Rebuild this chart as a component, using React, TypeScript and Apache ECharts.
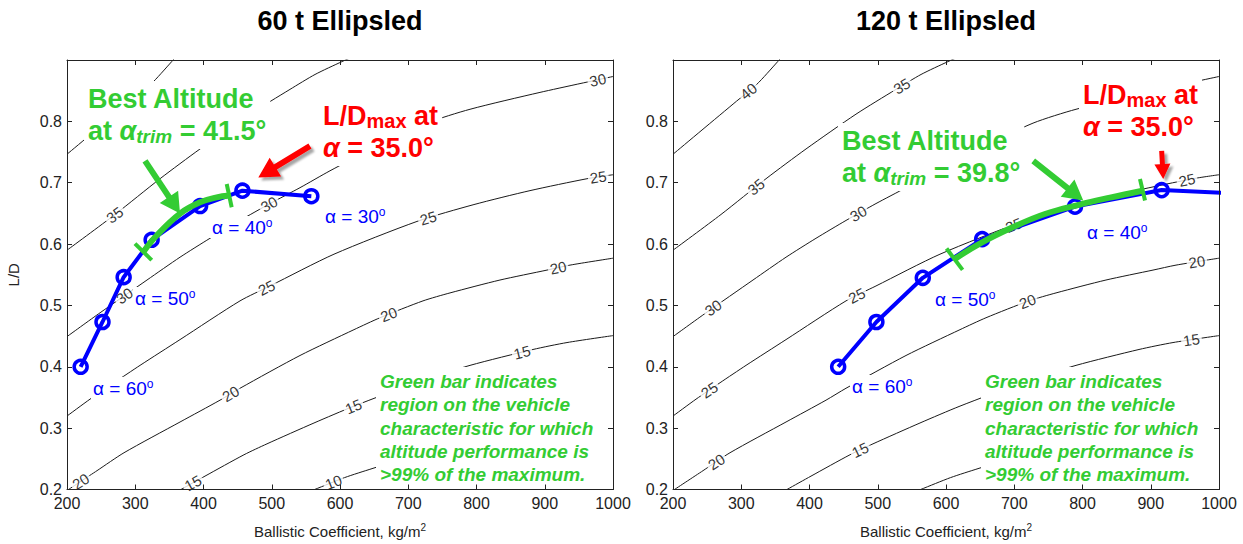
import React, { useEffect, useRef } from 'react';
import * as echarts from 'echarts';

// ---------- data ----------
// altitude contours (same field in both panels): [ballistic coefficient, L/D]
const contourLevels = [40, 35, 30, 25, 20, 15, 10];
const contour40 = [[200, 0.7464], [292.9, 0.8327], [322.2, 0.8597], [353.4, 0.8974], [365.6, 0.9136]];
const contour35 = [[200, 0.59], [270.3, 0.6482], [336.3, 0.7065], [394.9, 0.755], [468.1, 0.8117], [526.7, 0.8521], [563.4, 0.8764], [602.9, 0.8974], [629.3, 0.9104]];
const contour30 = [[200, 0.4492], [248.4, 0.488], [317.2, 0.5414], [365.6, 0.5786], [409.5, 0.6094], [453.5, 0.6385], [497.4, 0.666], [541.4, 0.6919], [585.3, 0.7194], [644, 0.7534], [727.5, 0.7971], [790.5, 0.8197], [893, 0.8472], [1000, 0.8731]];
const contour25 = [[200, 0.3197], [233.7, 0.3472], [268.9, 0.374], [307, 0.4023], [365.6, 0.4443], [453.5, 0.5074], [497.4, 0.5317], [591.2, 0.5835], [712.8, 0.6369], [796.3, 0.6644], [878.4, 0.6871], [961.9, 0.7065], [1000, 0.713]];
const contour20 = [[200, 0.1984], [244, 0.2307], [283.5, 0.2599], [365.6, 0.31], [424.2, 0.3456], [453.5, 0.365], [541.4, 0.4184], [620.5, 0.4605], [658.6, 0.4799], [721.6, 0.5074], [761.2, 0.5204], [834.4, 0.5414], [903.3, 0.5576], [937, 0.5657], [1000, 0.577]];
const contour15 = [[336.3, 0.1806], [367, 0.2], [402.2, 0.2218], [459.3, 0.2566], [493, 0.2744], [561.9, 0.3084], [620.5, 0.3359], [717.2, 0.3764], [790.5, 0.4023], [882.8, 0.4282], [932.6, 0.4395], [1000, 0.4508]];
const contour10 = [[536.3, 0.1887], [562.8, 0.2], [606.7, 0.2194], [646.9, 0.234], [717.2, 0.2583], [805.1, 0.2858], [893, 0.3084], [950, 0.321]];
const contours = [contour40, contour35, contour30, contour25, contour20, contour15, contour10];

// contour label placements: [level, BC, L/D]
const labels60 = [[35, 270.3, 0.647], [30, 282.5, 0.518], [30, 492.6, 0.672], [30, 978, 0.866], [25, 494.9, 0.523], [25, 729.4, 0.642], [25, 978, 0.712], [20, 219, 0.215], [20, 438.8, 0.358], [20, 673.2, 0.48], [20, 919.8, 0.561], [15, 385, 0.21], [15, 619.5, 0.336], [15, 866.2, 0.426], [10, 590.2, 0.2125]];
const labels120 = [[40, 307.6, 0.853], [35, 319.8, 0.696], [35, 532.3, 0.863], [30, 258.2, 0.497], [30, 471.2, 0.65], [25, 253.8, 0.361], [25, 471.2, 0.512], [25, 698, 0.634], [25, 952.6, 0.707], [20, 263.6, 0.245], [20, 720, 0.505], [20, 967.7, 0.571], [15, 473.7, 0.266], [15, 960, 0.442]];

// vehicle characteristic (alpha = 60 ... 30 deg)
const bc60 = [220, 252, 283, 324, 395, 457, 558];
const ld60 = [0.400, 0.473, 0.546, 0.607, 0.662, 0.687, 0.678];
const bc120 = [442, 498, 566, 653, 789, 916, 1116];
const ld120 = [0.400, 0.473, 0.545, 0.608, 0.661, 0.688, 0.678];

// >99% altitude band
const band60 = [[311.8, 0.5872], [331.4, 0.614], [365.6, 0.6498], [394.9, 0.6681], [419.3, 0.6762], [437.7, 0.679]];
const band120 = [[612.5, 0.5754], [649.6, 0.6008], [698.4, 0.6277], [745, 0.649], [796.2, 0.6644], [840.2, 0.6757], [887.8, 0.687]];
const bandEnds60 = [[[299.6, 0.6008], [324.1, 0.5738]], [[434, 0.6979], [441.3, 0.66]]];
const bandEnds120 = [[[600.8, 0.5927], [624.3, 0.5579]], [[884.2, 0.706], [891.6, 0.6709]]];

// arrows: [from, to]
const bestArrow60 = [[314.3, 0.7356], [365.6, 0.6498]];
const ldArrow60 = [[556, 0.7599], [480.3, 0.7086]];
const bestArrow120 = [[727.8, 0.7356], [801.1, 0.6709]];
const ldArrow120 = [[916, 0.7519], [918.3, 0.706]];

const titles = ['60 t Ellipsled', '120 t Ellipsled'];
const bestText = ['41.5°', '39.8°'];
const ldText = '35.0°';
const alphaLabels60 = ['60', '50', '40', '30'];
const alphaLabels120 = ['60', '50', '40'];
const noteLines = ['Green bar indicates', 'region on the vehicle', 'characteristic for which', 'altitude performance is', '>99% of the maximum.'];

// ---------- style ----------
const FONT = "'Liberation Sans', Arial, Helvetica, sans-serif";
const AXIS = '#222';
const GREEN = '#33cc33';
const BLUE = '#0000ff';
const RED = '#ff0000';

const GRIDS = [
  { left: 67, top: 60, width: 546, height: 431 },
  { left: 673, top: 60, width: 546, height: 431 },
];

export default function App() {
  const ref = useRef<HTMLDivElement>(null);

  useEffect(() => {
    const chart = echarts.init(ref.current!, null, { renderer: 'svg' });

    const xAxes: any[] = [];
    const yAxes: any[] = [];
    GRIDS.forEach((_, i) => {
      const common = {
        type: 'value', gridIndex: i, z: 10,
        axisLine: { show: true, onZero: false, lineStyle: { color: AXIS, width: 1 } },
        axisTick: { show: true, inside: true, length: 5, lineStyle: { color: AXIS } },
        splitLine: { show: false },
      };
      xAxes.push({
        ...common, position: 'bottom', min: 200, max: 1000, interval: 100,
        axisLabel: { color: '#222', fontSize: 16, fontFamily: FONT, margin: 6, formatter: (v: number) => String(v) },
        name: 'Ballistic Coefficient, kg/m{sup|2}', nameLocation: 'middle', nameGap: 33,
        nameTextStyle: {
          color: '#222', fontSize: 15, fontFamily: FONT,
          rich: { sup: { fontSize: 10, fontFamily: FONT, color: '#222', padding: [0, 0, 8, 0] } },
        },
      });
      xAxes.push({ ...common, position: 'top', min: 200, max: 1000, interval: 100, axisLabel: { show: false } });
      yAxes.push({
        ...common, position: 'left', min: 0.2, max: 0.9, interval: 0.1,
        axisLabel: { color: '#222', fontSize: 16, fontFamily: FONT, margin: 5, showMaxLabel: false, formatter: (v: number) => v.toFixed(1) },
        name: i === 0 ? 'L/D' : '', nameLocation: 'middle', nameGap: 46, nameRotate: 90,
        nameTextStyle: { color: '#222', fontSize: 15, fontFamily: FONT },
      });
      yAxes.push({ ...common, position: 'right', min: 0.2, max: 0.9, interval: 0.1, axisLabel: { show: false } });
    });

    const series: any[] = [];
    [0, 1].forEach((p) => {
      const ax = { xAxisIndex: 2 * p, yAxisIndex: 2 * p };
      contours.forEach((c) => {
        series.push({
          type: 'line', ...ax, data: c, symbol: 'none', smooth: 0.25, silent: true, z: 2,
          lineStyle: { color: '#1a1a1a', width: 1 },
        });
      });
      const bc = p === 0 ? bc60 : bc120;
      const ld = p === 0 ? ld60 : ld120;
      series.push({
        type: 'line', ...ax, data: bc.map((x, i) => [x, ld[i]]), symbol: 'circle', symbolSize: 13,
        showAllSymbol: true, silent: true, z: 5,
        lineStyle: { color: BLUE, width: 4 },
        itemStyle: { color: 'rgba(0,0,0,0)', borderColor: BLUE, borderWidth: 3.5 },
      });
      series.push({
        type: 'line', ...ax, data: p === 0 ? band60 : band120, symbol: 'none', smooth: 0.4, silent: true, z: 6,
        lineStyle: { color: GREEN, width: 6 },
      });
      (p === 0 ? bandEnds60 : bandEnds120).forEach((seg) => {
        series.push({
          type: 'line', ...ax, data: seg, symbol: 'none', silent: true, z: 6,
          lineStyle: { color: GREEN, width: 4 },
        });
      });
    });

    const base: any = {
      animation: false,
      backgroundColor: '#fff',
      grid: GRIDS,
      xAxis: xAxes,
      yAxis: yAxes,
      series,
    };
    chart.setOption(base);

    const toPx = (p: number, pt: number[]) => chart.convertToPixel({ gridIndex: p }, pt) as number[];
    const fromPx = (p: number, pt: number[]) => chart.convertFromPixel({ gridIndex: p }, pt) as number[];

    // contour labels: snap onto their contour and align with it
    const labelSeries: any[] = [];
    [0, 1].forEach((p) => {
      const list = p === 0 ? labels60 : labels120;
      const data = list.map(([lev, x, y]) => {
        const c = contours[contourLevels.indexOf(lev)];
        const pts = c.map((q) => toPx(p, q));
        const lp = toPx(p, [x, y]);
        let best = { d: Infinity, px: lp, ang: 0 };
        for (let i = 0; i < pts.length - 1; i++) {
          const a = pts[i], b = pts[i + 1];
          const dx = b[0] - a[0], dy = b[1] - a[1];
          const l2 = dx * dx + dy * dy;
          let t = ((lp[0] - a[0]) * dx + (lp[1] - a[1]) * dy) / l2;
          t = Math.max(0, Math.min(1, t));
          const q = [a[0] + t * dx, a[1] + t * dy];
          const d = Math.hypot(q[0] - lp[0], q[1] - lp[1]);
          if (d < best.d) {
            let ang = (Math.atan2(-dy, dx) * 180) / Math.PI;
            if (ang > 90) ang -= 180;
            if (ang < -90) ang += 180;
            best = { d, px: q, ang };
          }
        }
        return { name: String(lev), value: fromPx(p, best.px), label: { rotate: best.ang } };
      });
      labelSeries.push({
        type: 'scatter', xAxisIndex: 2 * p, yAxisIndex: 2 * p, data, symbolSize: 1, silent: true, z: 3,
        itemStyle: { color: 'rgba(0,0,0,0)' },
        label: {
          show: true, position: 'inside', formatter: '{b}', fontSize: 15, fontFamily: FONT, color: '#000',
          backgroundColor: '#fff', padding: [0, 2],
        },
      });
    });

    const arrowPoly = (a: number[], b: number[], shaft: number, headLen: number, headHalf: number) => {
      const dx = b[0] - a[0], dy = b[1] - a[1];
      const L = Math.hypot(dx, dy);
      const ux = dx / L, uy = dy / L, nx = -uy, ny = ux;
      const bs = [b[0] - ux * headLen, b[1] - uy * headLen];
      const s = shaft / 2;
      return [
        [a[0] + nx * s, a[1] + ny * s], [bs[0] + nx * s, bs[1] + ny * s], [bs[0] + nx * headHalf, bs[1] + ny * headHalf],
        b, [bs[0] - nx * headHalf, bs[1] - ny * headHalf], [bs[0] - nx * s, bs[1] - ny * s], [a[0] - nx * s, a[1] - ny * s],
      ];
    };
    const redShadow = { shadowBlur: 2, shadowColor: 'rgba(0,0,0,0.35)', shadowOffsetX: 3, shadowOffsetY: 3 };
    const arrows = [
      { type: 'polygon', z: 7, shape: { points: arrowPoly(toPx(0, bestArrow60[0]), toPx(0, bestArrow60[1]), 6, 20, 11) }, style: { fill: GREEN } },
      { type: 'polygon', z: 7, shape: { points: arrowPoly(toPx(0, ldArrow60[0]), toPx(0, ldArrow60[1]), 6, 20, 11) }, style: { fill: RED, ...redShadow } },
      { type: 'polygon', z: 7, shape: { points: arrowPoly(toPx(1, bestArrow120[0]), toPx(1, bestArrow120[1]), 6, 20, 11) }, style: { fill: GREEN } },
      { type: 'polygon', z: 7, shape: { points: arrowPoly(toPx(1, ldArrow120[0]), toPx(1, ldArrow120[1]), 5, 15, 8) }, style: { fill: RED, ...redShadow } },
    ];

    const big = (fill: string) => ({
      b: { fontSize: 27, fontWeight: 'bold', fontFamily: FONT, fill, lineHeight: 32 },
      a: { fontSize: 27, fontWeight: 'bold', fontStyle: 'italic', fontFamily: FONT, fill, lineHeight: 32 },
      s: { fontSize: 19, fontWeight: 'bold', fontStyle: 'italic', fontFamily: FONT, fill, lineHeight: 32, padding: [10, 0, 0, 0] },
      m: { fontSize: 20, fontWeight: 'bold', fontFamily: FONT, fill, lineHeight: 32, padding: [10, 0, 0, 0] },
    });
    const bestTxt = (v: string) => `{b|Best Altitude}\n{b|at }{a|α}{s|trim}{b| = ${v}}`;
    const ldTxt = `{b|L/D}{m|max}{b| at}\n{a|α}{b| = ${ldText}}`;
    const alphaRich = {
      n: { fontSize: 19, fontFamily: FONT, fill: BLUE, lineHeight: 22 },
      o: { fontSize: 12, fontFamily: FONT, fill: BLUE, lineHeight: 22, padding: [0, 0, 9, 0] },
    };
    const alphaTxt = (v: string, x: number, y: number) => ({
      type: 'text', z: 4, x, y,
      style: { text: `{n|α = ${v}}{o|o}`, rich: alphaRich, verticalAlign: 'middle', backgroundColor: '#fff', padding: [0, 2] },
    });
    const note = (x: number) => ({
      type: 'text', z: 4, x, y: 367,
      style: {
        text: noteLines.join('\n'), fill: GREEN, fontSize: 19, fontWeight: 'bold', fontStyle: 'italic', fontFamily: FONT,
        lineHeight: 23.3, backgroundColor: '#fff', padding: [3, 4],
      },
    });

    const graphic: any[] = [
      { type: 'text', z: 4, x: 340, y: 21, style: { text: titles[0], align: 'center', verticalAlign: 'middle', fontSize: 27, fontWeight: 'bold', fontFamily: FONT, fill: '#000' } },
      { type: 'text', z: 4, x: 946, y: 21, style: { text: titles[1], align: 'center', verticalAlign: 'middle', fontSize: 27, fontWeight: 'bold', fontFamily: FONT, fill: '#000' } },
      { type: 'text', z: 4, x: 84, y: 81, style: { text: bestTxt(bestText[0]), rich: big(GREEN), backgroundColor: '#fff', padding: [2, 4] } },
      { type: 'text', z: 4, x: 319, y: 98, style: { text: ldTxt, rich: big(RED), backgroundColor: '#fff', padding: [2, 4] } },
      { type: 'text', z: 4, x: 838, y: 123, style: { text: bestTxt(bestText[1]), rich: big(GREEN), backgroundColor: '#fff', padding: [2, 4] } },
      { type: 'text', z: 4, x: 1079, y: 77, style: { text: ldTxt, rich: big(RED), backgroundColor: '#fff', padding: [2, 4] } },
      alphaTxt(alphaLabels60[0], 91, 388),
      alphaTxt(alphaLabels60[1], 133, 298),
      alphaTxt(alphaLabels60[2], 210, 227),
      alphaTxt(alphaLabels60[3], 323, 216),
      alphaTxt(alphaLabels120[0], 850, 386),
      alphaTxt(alphaLabels120[1], 933, 299),
      alphaTxt(alphaLabels120[2], 1085, 232),
      note(376),
      note(981),
      ...arrows,
    ];

    chart.setOption({ ...base, series: [...series, ...labelSeries], graphic }, true);

    return () => chart.dispose();
  }, []);

  return <div ref={ref} style={{ position: 'absolute', left: 0, top: 0, width: 1243, height: 544 }} />;
}
